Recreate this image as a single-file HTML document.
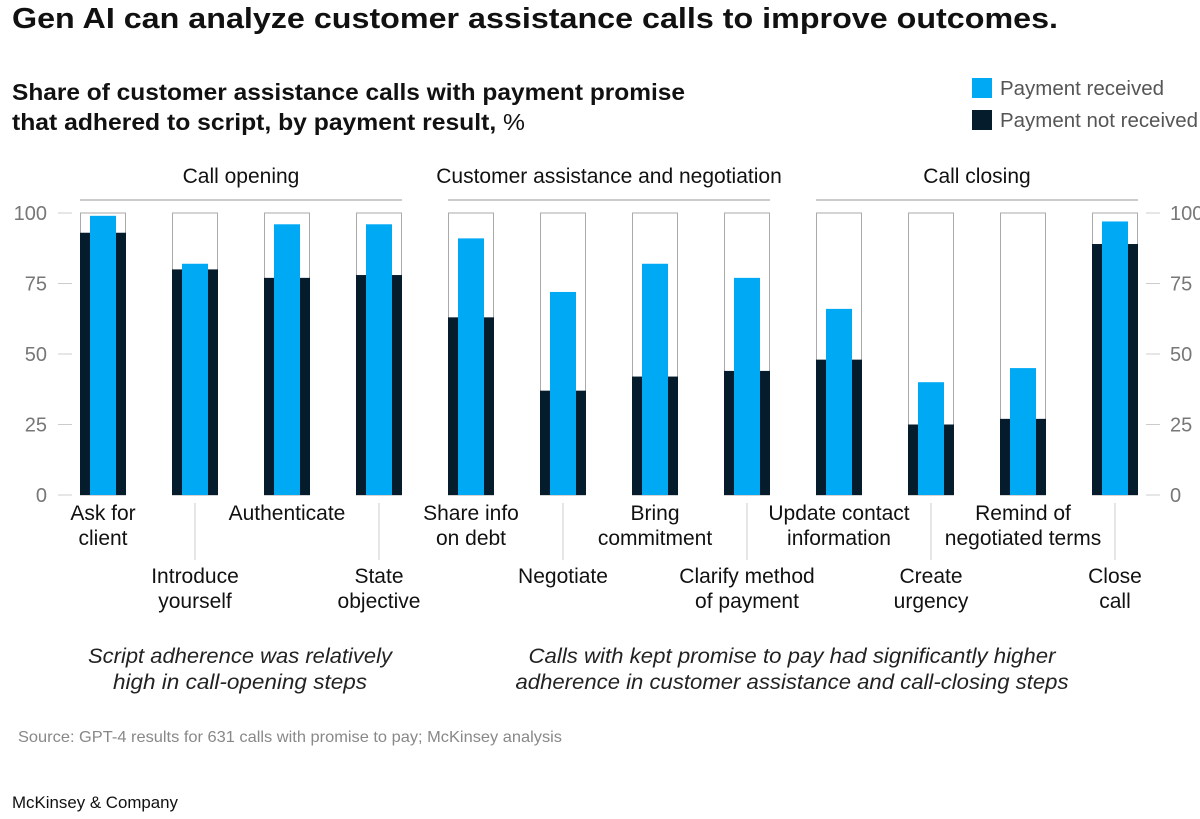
<!DOCTYPE html>
<html><head><meta charset="utf-8"><style>
body{margin:0;background:#fff;font-family:"Liberation Sans",sans-serif;}
</style></head><body>
<svg width="1200" height="814" xmlns="http://www.w3.org/2000/svg" font-family="Liberation Sans, sans-serif">
<text x="12" y="28" font-size="29" font-weight="bold" fill="#111" textLength="1046" lengthAdjust="spacingAndGlyphs">Gen AI can analyze customer assistance calls to improve outcomes.</text>
<text x="12" y="100" font-size="23" font-weight="bold" fill="#111" textLength="673" lengthAdjust="spacingAndGlyphs">Share of customer assistance calls with payment promise</text>
<text x="12" y="130" font-size="23" fill="#111" textLength="513" lengthAdjust="spacingAndGlyphs"><tspan font-weight="bold">that adhered to script, by payment result, </tspan>%</text>
<rect x="972" y="78" width="20" height="20" fill="#00a9f4"/>
<text x="1000" y="95" font-size="20" fill="#555" textLength="164" lengthAdjust="spacingAndGlyphs">Payment received</text>
<rect x="972" y="110" width="20" height="20" fill="#051c2c"/>
<text x="1000" y="127" font-size="20" fill="#555" textLength="198" lengthAdjust="spacingAndGlyphs">Payment not received</text>
<g id="plot"></g>
<text x="240" y="663" font-size="21" font-style="italic" fill="#222" text-anchor="middle" textLength="304" lengthAdjust="spacingAndGlyphs">Script adherence was relatively</text>
<text x="240" y="689" font-size="21" font-style="italic" fill="#222" text-anchor="middle" textLength="254" lengthAdjust="spacingAndGlyphs">high in call-opening steps</text>
<text x="792" y="663" font-size="21" font-style="italic" fill="#222" text-anchor="middle" textLength="527" lengthAdjust="spacingAndGlyphs">Calls with kept promise to pay had significantly higher</text>
<text x="792" y="689" font-size="21" font-style="italic" fill="#222" text-anchor="middle" textLength="553" lengthAdjust="spacingAndGlyphs">adherence in customer assistance and call-closing steps</text>
<text x="18" y="742" font-size="16" fill="#888" textLength="544" lengthAdjust="spacingAndGlyphs">Source: GPT-4 results for 631 calls with promise to pay; McKinsey analysis</text>
<text x="12" y="808" font-size="17" fill="#111" textLength="166" lengthAdjust="spacingAndGlyphs">McKinsey &amp; Company</text>
</svg>
<script>
const categories=[["Ask for","client"],["Introduce","yourself"],["Authenticate"],["State","objective"],["Share info","on debt"],["Negotiate"],["Bring","commitment"],["Clarify method","of payment"],["Update contact","information"],["Create","urgency"],["Remind of","negotiated terms"],["Close","call"]];
const received=[99,82,96,96,91,72,82,77,66,40,45,97];
const notReceived=[93,80,77,78,63,37,42,44,48,25,27,89];
const ticks=[0,25,50,75,100];
const groups=[["Call opening",0,3],["Customer assistance and negotiation",4,7],["Call closing",8,11]];
const NS="http://www.w3.org/2000/svg";
const g=document.getElementById('plot');
const y=v=>495-v*2.82;
const bx=i=>80+i*92;
function mk(t,a){const e=document.createElementNS(NS,t);for(const k in a)e.setAttribute(k,a[k]);g.appendChild(e);return e;}
ticks.forEach(t=>{
 let l=mk('line',{x1:58,x2:72,y1:y(t),y2:y(t),stroke:'#ccc'});
 
 
 let a=mk('text',{x:47,y:y(t)+7,'font-size':20,fill:'#777','text-anchor':'end'});a.textContent=t;
 
 
 let r=mk('line',{x1:1146,x2:1160,y1:y(t),y2:y(t),stroke:'#ccc'});
 
 
 let b=mk('text',{x:1170,y:y(t)+7,'font-size':20,fill:'#777'});b.textContent=t;
 
 
});
groups.forEach(gr=>{
 const x1=bx(gr[1]),x2=bx(gr[2])+46;
 let l=mk('line',{x1:x1,x2:x2,y1:200,y2:200,stroke:'#bbb','stroke-width':1.5});
 
 
 let t=mk('text',{x:(x1+x2)/2,y:183,'font-size':21,fill:'#111','text-anchor':'middle'});t.textContent=gr[0];
 
 
});
categories.forEach((c,i)=>{
 const x=bx(i);
 let o=mk('rect',{x:x+0.5,y:y(100),width:45,height:y(0)-y(100),fill:'none',stroke:'#aaa'});
 
 
 let n=mk('rect',{x:x,y:y(notReceived[i]),width:46,height:y(0)-y(notReceived[i]),fill:'#051c2c'});
 
 
 let r=mk('rect',{x:x+10,y:y(received[i]),width:26,height:y(0)-y(received[i]),fill:'#00a9f4'});
 
 
 const cx=x+23, low=i%2===1, base=low?583:520;
 if(low){let v=mk('line',{x1:cx,x2:cx,y1:503,y2:560,stroke:'#ccc'});
  
  }
 c.forEach((s,k)=>{let t=mk('text',{x:cx,y:base+k*25,'font-size':21,fill:'#111','text-anchor':'middle'});t.textContent=s;
  
  });
});
</script>
</body></html>
